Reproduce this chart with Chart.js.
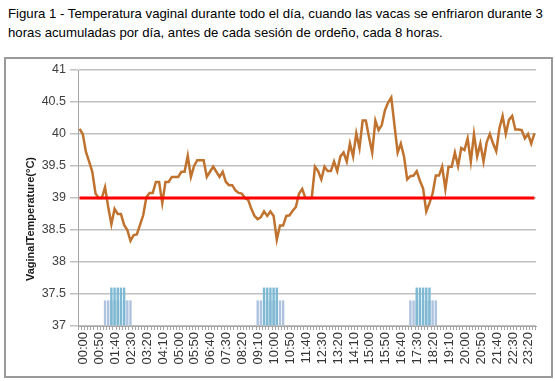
<!DOCTYPE html>
<html>
<head>
<meta charset="utf-8">
<script src="https://cdn.jsdelivr.net/npm/chart.js@4/dist/chart.umd.min.js"></script>
<style>
  body { margin: 0; background: #fff; }
  #title {
    position: absolute; left: 8px; top: 4px; width: 547px;
    font: 13.2px "Liberation Sans", Arial, sans-serif; line-height: 19px; color: #000;
    white-space: nowrap;
  }
  #box {
    position: absolute; left: 4px; top: 57px; width: 545px; height: 317px;
    border: 2px solid #9a9a9a;
  }
  #chart { position: absolute; left: 0; top: 0; }
</style>
</head>
<body>
<div id="title">Figura 1 - Temperatura vaginal durante todo el día, cuando las vacas se enfriaron durante 3<br>horas acumuladas por día, antes de cada sesión de ordeño, cada 8 horas.</div>
<div id="box"></div>
<canvas id="chart" width="555" height="381"></canvas>
<script>
// horas del día, cada 10 minutos
const categories = [
  '00:00','00:10','00:20','00:30','00:40','00:50','01:00','01:10','01:20','01:30','01:40','01:50',
  '02:00','02:10','02:20','02:30','02:40','02:50','03:00','03:10','03:20','03:30','03:40','03:50',
  '04:00','04:10','04:20','04:30','04:40','04:50','05:00','05:10','05:20','05:30','05:40','05:50',
  '06:00','06:10','06:20','06:30','06:40','06:50','07:00','07:10','07:20','07:30','07:40','07:50',
  '08:00','08:10','08:20','08:30','08:40','08:50','09:00','09:10','09:20','09:30','09:40','09:50',
  '10:00','10:10','10:20','10:30','10:40','10:50','11:00','11:10','11:20','11:30','11:40','11:50',
  '12:00','12:10','12:20','12:30','12:40','12:50','13:00','13:10','13:20','13:30','13:40','13:50',
  '14:00','14:10','14:20','14:30','14:40','14:50','15:00','15:10','15:20','15:30','15:40','15:50',
  '16:00','16:10','16:20','16:30','16:40','16:50','17:00','17:10','17:20','17:30','17:40','17:50',
  '18:00','18:10','18:20','18:30','18:40','18:50','19:00','19:10','19:20','19:30','19:40','19:50',
  '20:00','20:10','20:20','20:30','20:40','20:50','21:00','21:10','21:20','21:30','21:40','21:50',
  '22:00','22:10','22:20','22:30','22:40','22:50','23:00','23:10','23:20','23:30','23:40','23:50'
];

const tickLabels = [
  '00:00','00:50','01:40','02:30','03:20','04:10','05:00','05:50','06:40','07:30',
  '08:20','09:10','10:00','10:50','11:40','12:30','13:20','14:10','15:00','15:50',
  '16:40','17:30','18:20','19:10','20:00','20:50','21:40','22:30','23:20'
];

// temperatura vaginal (°C)
const temps = [
  40.08, 40.0, 39.72, 39.57, 39.41, 39.07, 39.0, 39.0, 39.17, 38.86,
  38.59, 38.83, 38.75, 38.75, 38.58, 38.5, 38.33, 38.42, 38.43, 38.58,
  38.73, 39.01, 39.08, 39.08, 39.25, 39.25, 38.92, 39.25, 39.25, 39.33,
  39.33, 39.33, 39.41, 39.41, 39.66, 39.33, 39.5, 39.59, 39.59, 39.59,
  39.33, 39.41, 39.49, 39.41, 39.33, 39.41, 39.25, 39.2, 39.2, 39.12,
  39.08, 39.07, 39.0, 38.97, 38.83, 38.72, 38.67, 38.7, 38.79, 38.72,
  38.79, 38.72, 38.35, 38.57, 38.57, 38.72, 38.73, 38.8, 38.86, 39.07,
  39.14, 39.0, 39.0, 39.0, 39.49, 39.42, 39.29, 39.49, 39.42, 39.42,
  39.57, 39.42, 39.65, 39.71, 39.57, 39.85, 39.65, 40.01, 39.78, 40.21,
  40.21, 39.95, 39.71, 40.21, 40.06, 40.14, 40.37, 40.49, 40.57, 40.14,
  39.71, 39.85, 39.65, 39.29, 39.34, 39.35, 39.42, 39.27, 39.15, 38.79,
  38.92, 39.07, 39.35, 39.35, 39.49, 39.14, 39.49, 39.49, 39.71, 39.5,
  39.78, 39.75, 39.93, 39.57, 40.0, 39.65, 39.85, 39.57, 39.87, 40.0,
  39.85, 39.73, 40.09, 40.28, 40.0, 40.22, 40.28, 40.07, 40.07, 40.06,
  39.93, 40.0, 39.85, 40.01
];

const threshold = 39;

// periodos de enfriamiento
const coolLow = [
  '01:20','01:30','01:40','01:50','02:00','02:10','02:20','02:30','02:40',
  '09:20','09:30','09:40','09:50','10:00','10:10','10:20','10:30','10:40',
  '17:20','17:30','17:40','17:50','18:00','18:10','18:20','18:30','18:40'
];
const coolHigh = [
  '01:40','01:50','02:00','02:10','02:20',
  '09:40','09:50','10:00','10:10','10:20',
  '17:40','17:50','18:00','18:10','18:20'
];
const coolLowLevel = 37.4;
const coolHighLevel = 37.6;

// titulo del eje Y, dibujado a mano para poder moverlo
const yTitle = {
  id: 'yTitle',
  afterDraw(chart) {
    const ctx = chart.ctx;
    ctx.save();
    ctx.translate(31, 219);
    ctx.rotate(-Math.PI / 2);
    ctx.font = 'bold 11px "Liberation Sans", Arial, sans-serif';
    ctx.fillStyle = '#1a1a1a';
    ctx.textAlign = 'center';
    ctx.textBaseline = 'middle';
    ctx.fillText('VaginalTemperature(°C)', 0, 0);
    ctx.restore();
  }
};

new Chart(document.getElementById('chart').getContext('2d'), {
  type: 'bar',
  data: {
    labels: categories,
    datasets: [
      {
        type: 'line',
        data: [{ x: categories[0], y: threshold }, { x: categories[categories.length - 1], y: threshold }],
        borderColor: '#ff0000',
        borderWidth: 3,
        pointRadius: 0,
        order: 0
      },
      {
        type: 'line',
        data: temps,
        borderColor: '#c0722f',
        borderWidth: 2.5,
        pointRadius: 0,
        tension: 0,
        order: 1
      },
      {
        data: coolHigh.map(t => ({ x: t, y: coolHighLevel })),
        backgroundColor: '#7db9d3',
        base: 37,
        grouped: false,
        barPercentage: 0.75,
        categoryPercentage: 1,
        order: 2
      },
      {
        data: coolLow.map(t => ({ x: t, y: coolLowLevel })),
        backgroundColor: '#adc3df',
        base: 37,
        grouped: false,
        barPercentage: 0.75,
        categoryPercentage: 1,
        order: 3
      }
    ]
  },
  options: {
    responsive: false,
    animation: false,
    layout: { padding: { top: 70, right: 19, bottom: 10, left: 8 } },
    plugins: { legend: { display: false }, tooltip: { enabled: false } },
    scales: {
      x: {
        afterFit: s => { s.height = 45; },
        grid: { drawOnChartArea: false, drawTicks: true, tickLength: 4, color: '#a6a6a6' },
        border: { color: '#a6a6a6' },
        ticks: {
          autoSkip: false,
          minRotation: 90,
          maxRotation: 90,
          padding: 2,
          labelOffset: 4,
          color: '#333',
          font: { family: '"Liberation Sans", Arial, sans-serif', size: 13 },
          callback: (v, i) => tickLabels.includes(categories[i]) ? categories[i] : ''
        }
      },
      y: {
        min: 37,
        max: 41,
        afterFit: s => { s.width = 70; },
        grid: { color: '#c0c0c0', lineWidth: 1.5, tickLength: 8 },
        border: { color: '#a6a6a6' },
        ticks: {
          stepSize: 0.5,
          padding: 4,
          color: '#404040',
          font: { family: '"Liberation Sans", Arial, sans-serif', size: 12.5 },
          callback: v => String(Number(v.toFixed(1)))
        }
      }
    }
  },
  plugins: [yTitle]
});
</script>
</body>
</html>
